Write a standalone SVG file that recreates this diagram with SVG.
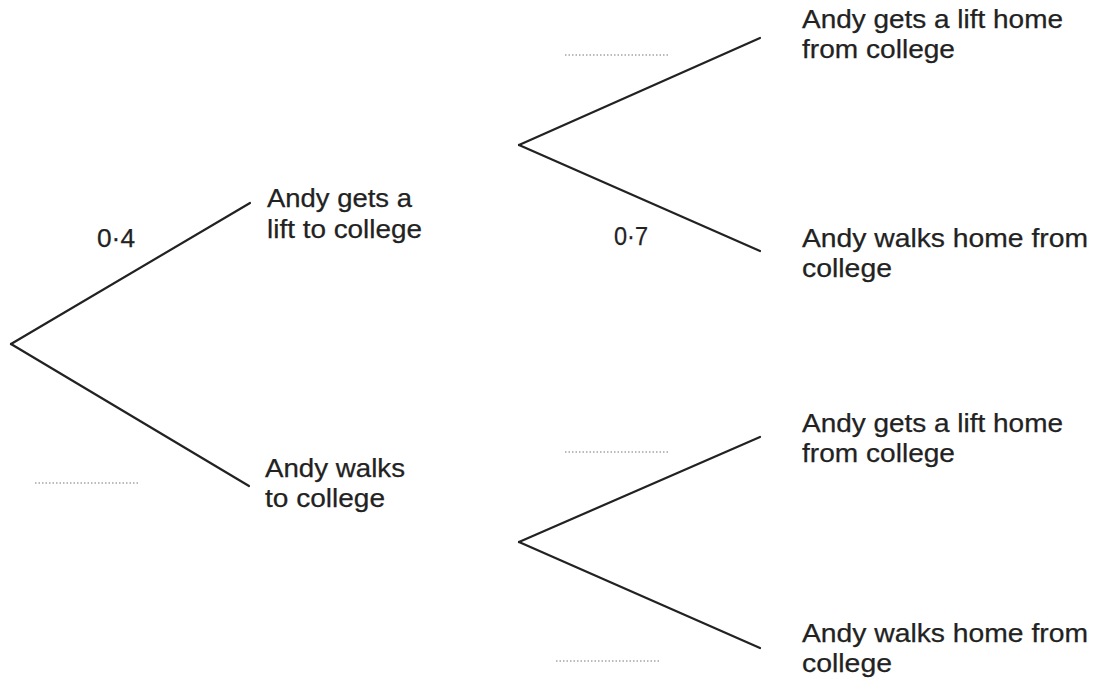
<svg xmlns="http://www.w3.org/2000/svg" width="1094" height="683" viewBox="0 0 1094 683">
<style>
.br{stroke:#222;stroke-width:2.2;fill:none;stroke-linecap:round}
.dot{stroke:#777;stroke-width:1.2;stroke-dasharray:1.5 2;fill:none}
text{font-family:"Liberation Sans",Arial,sans-serif;font-size:26px;fill:#222;stroke:#222;stroke-width:0.25}
</style>
<rect width="1094" height="683" fill="#fff"/>
<g id="connectors">
<line class="br" x1="11" y1="344" x2="250" y2="203"/>
<line class="br" x1="11" y1="344" x2="249" y2="486"/>
<line class="br" x1="519" y1="145" x2="760" y2="38"/>
<line class="br" x1="519" y1="145" x2="760" y2="251"/>
<line class="br" x1="519" y1="542" x2="760" y2="437"/>
<line class="br" x1="519" y1="542" x2="760" y2="648"/>
</g>
<g id="blanks">
<line class="dot" x1="35" y1="483" x2="139" y2="483"/>
<line class="dot" x1="565" y1="55" x2="670" y2="55"/>
<line class="dot" x1="565" y1="452" x2="670" y2="452"/>
<line class="dot" x1="556" y1="661" x2="660" y2="661"/>
</g>
<g id="prob-04"><text x="97" y="247" textLength="38" lengthAdjust="spacingAndGlyphs">0·4</text></g>
<g id="prob-07"><text x="614" y="245" textLength="34" lengthAdjust="spacingAndGlyphs">0·7</text></g>
<g id="lift-to">
<text x="267" y="207" textLength="145" lengthAdjust="spacingAndGlyphs">Andy gets a</text>
<text x="267" y="238" textLength="155" lengthAdjust="spacingAndGlyphs">lift to college</text>
</g>
<g id="walk-to">
<text x="265" y="477" textLength="140" lengthAdjust="spacingAndGlyphs">Andy walks</text>
<text x="265" y="507" textLength="120" lengthAdjust="spacingAndGlyphs">to college</text>
</g>
<g id="lift-lift">
<text x="802" y="28" textLength="261" lengthAdjust="spacingAndGlyphs">Andy gets a lift home</text>
<text x="802" y="58" textLength="153" lengthAdjust="spacingAndGlyphs">from college</text>
</g>
<g id="lift-walk">
<text x="802" y="247" textLength="286" lengthAdjust="spacingAndGlyphs">Andy walks home from</text>
<text x="802" y="277" textLength="90" lengthAdjust="spacingAndGlyphs">college</text>
</g>
<g id="walk-lift">
<text x="802" y="432" textLength="261" lengthAdjust="spacingAndGlyphs">Andy gets a lift home</text>
<text x="802" y="462" textLength="153" lengthAdjust="spacingAndGlyphs">from college</text>
</g>
<g id="walk-walk">
<text x="802" y="642" textLength="286" lengthAdjust="spacingAndGlyphs">Andy walks home from</text>
<text x="802" y="672" textLength="90" lengthAdjust="spacingAndGlyphs">college</text>
</g>
</svg>
